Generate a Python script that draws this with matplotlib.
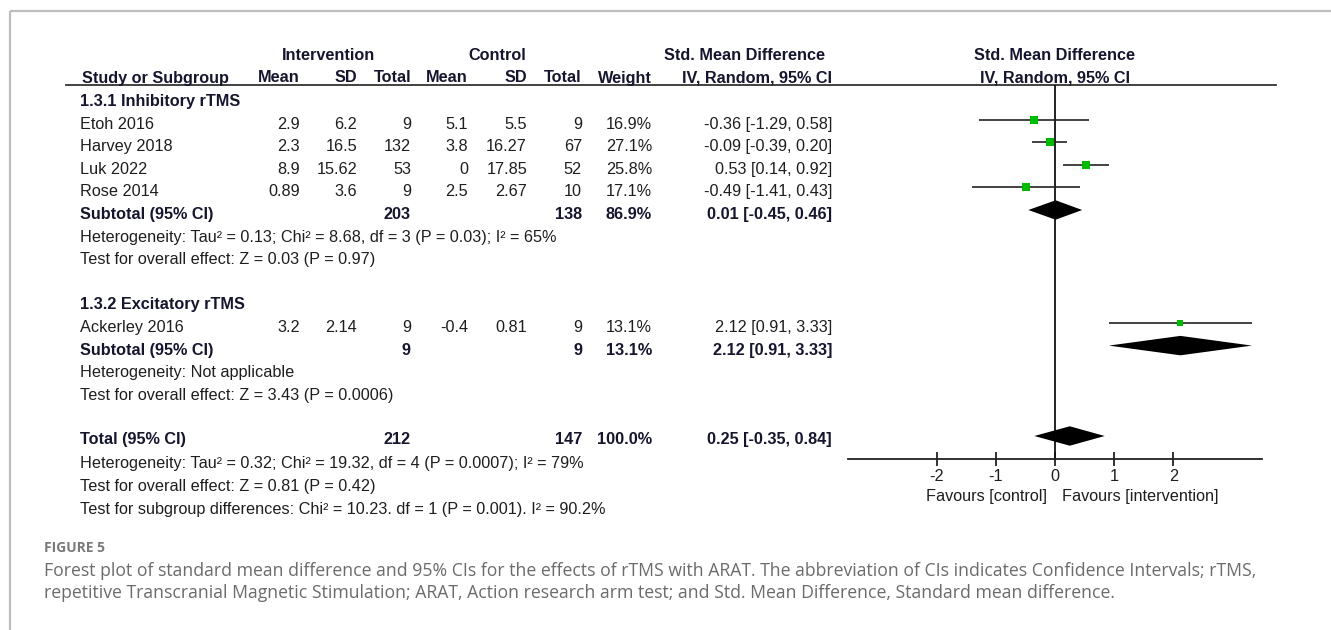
import matplotlib
matplotlib.use("Agg")
import matplotlib.pyplot as plt
import numpy as np

# ---------------- data ----------------
subgroups = ["1.3.1 Inhibitory rTMS", "1.3.2 Excitatory rTMS"]
studies = ["Etoh 2016", "Harvey 2018", "Luk 2022", "Rose 2014", "Ackerley 2016"]
study_group = [0, 0, 0, 0, 1]
int_mean = [2.9, 2.3, 8.9, 0.89, 3.2]
int_sd = [6.2, 16.5, 15.62, 3.6, 2.14]
int_n = [9, 132, 53, 9, 9]
ctl_mean = [5.1, 3.8, 0, 2.5, -0.4]
ctl_sd = [5.5, 16.27, 17.85, 2.67, 0.81]
ctl_n = [9, 67, 52, 10, 9]
weight = [16.9, 27.1, 25.8, 17.1, 13.1]
smd = [-0.36, -0.09, 0.53, -0.49, 2.12]
smd_lo = [-1.29, -0.39, 0.14, -1.41, 0.91]
smd_hi = [0.58, 0.20, 0.92, 0.43, 3.33]

sub_int_n = [203, 9]
sub_ctl_n = [138, 9]
sub_weight = [86.9, 13.1]
sub_smd = [0.01, 2.12]
sub_lo = [-0.45, 0.91]
sub_hi = [0.46, 3.33]
sub_het = ["Heterogeneity: Tau\u00b2 = 0.13; Chi\u00b2 = 8.68, df = 3 (P = 0.03); I\u00b2 = 65%",
           "Heterogeneity: Not applicable"]
sub_test = ["Test for overall effect: Z = 0.03 (P = 0.97)",
            "Test for overall effect: Z = 3.43 (P = 0.0006)"]

tot_int_n, tot_ctl_n, tot_weight = 212, 147, 100.0
tot_smd, tot_lo, tot_hi = 0.25, -0.35, 0.84
tot_notes = ["Heterogeneity: Tau\u00b2 = 0.32; Chi\u00b2 = 19.32, df = 4 (P = 0.0007); I\u00b2 = 79%",
             "Test for overall effect: Z = 0.81 (P = 0.42)",
             "Test for subgroup differences: Chi\u00b2 = 10.23. df = 1 (P = 0.001). I\u00b2 = 90.2%"]

x_ticks = [-2, -1, 0, 1, 2]
x_limits = (-3.5, 3.5)
favours = ["Favours [control]", "Favours [intervention]"]

caption_title = "FIGURE 5"
caption_lines = [
    "Forest plot of standard mean difference and 95% CIs for the effects of rTMS with ARAT. The abbreviation of CIs indicates Confidence Intervals; rTMS,",
    "repetitive Transcranial Magnetic Stimulation; ARAT, Action research arm test; and Std. Mean Difference, Standard mean difference.",
]

# ---------------- layout ----------------
W, H = 1331, 630
FONT = "Liberation Sans"
FS = 11.7
TXT = "#1e1e1e"
HDR = "#15152e"
GREEN = "#00bb00"

ROW0, STEP = 97.0, 22.6          # pixel y of row 0 and row pitch
def row_y(i):
    return ROW0 + STEP * i

fig = plt.figure(figsize=(W / 100, H / 100), dpi=100)
base = fig.add_axes([0, 0, 1, 1])
base.set_xlim(0, W)
base.set_ylim(H, 0)
base.axis("off")

def put(x, y, s, ha="left", bold=False, color=TXT, size=FS, family=FONT):
    base.text(x, y, s, ha=ha, va="baseline", fontsize=size,
              fontweight="bold" if bold else "normal", color=color, family=family)

# card frame
base.plot([10, W], [11, 11], color="#bdbdbd", lw=1.6, solid_capstyle="butt")
base.plot([10, 10], [11, H], color="#bdbdbd", lw=1.6, solid_capstyle="butt")

# column right edges
COL_STUDY = 80
C_IM, C_ISD, C_IN = 300, 357, 411
C_CM, C_CSD, C_CN = 468, 527, 582
C_W, C_CI = 652, 832

# headers
put((282 + 375) / 2, 60.5, "Intervention", ha="center", bold=True, color=HDR)
put(497, 60.5, "Control", ha="center", bold=True, color=HDR)
put(745, 60.5, "Std. Mean Difference", ha="center", bold=True, color=HDR)
put(1055, 60.5, "Std. Mean Difference", ha="center", bold=True, color=HDR)
hb = 82.5
put(COL_STUDY + 2, hb, "Study or Subgroup", bold=True, color=HDR)
put(C_IM, hb, "Mean", ha="right", bold=True, color=HDR)
put(C_ISD, hb, "SD", ha="right", bold=True, color=HDR)
put(C_IN, hb, "Total", ha="right", bold=True, color=HDR)
put(C_CM, hb, "Mean", ha="right", bold=True, color=HDR)
put(C_CSD, hb, "SD", ha="right", bold=True, color=HDR)
put(C_CN, hb, "Total", ha="right", bold=True, color=HDR)
put(C_W, hb, "Weight", ha="right", bold=True, color=HDR)
put(C_CI, hb, "IV, Random, 95% CI", ha="right", bold=True, color=HDR)
put(1055, hb, "IV, Random, 95% CI", ha="center", bold=True, color=HDR)
base.plot([66, 1276], [85, 85], color="#333333", lw=1.3)

def ci_text(e, lo, hi):
    return f"{e:.2f} [{lo:.2f}, {hi:.2f}]"

# build row layout
study_rows, sub_rows, tot_row = [], [], None
r = 0
for g, name in enumerate(subgroups):
    put(COL_STUDY, row_y(r) + 9, name, bold=True, color=HDR)
    r += 1
    for k in range(len(studies)):
        if study_group[k] != g:
            continue
        y = row_y(r) + 9
        put(COL_STUDY, y, studies[k])
        put(C_IM, y, f"{int_mean[k]:g}", ha="right")
        put(C_ISD, y, f"{int_sd[k]:g}", ha="right")
        put(C_IN, y, f"{int_n[k]}", ha="right")
        put(C_CM, y, f"{ctl_mean[k]:g}", ha="right")
        put(C_CSD, y, f"{ctl_sd[k]:g}", ha="right")
        put(C_CN, y, f"{ctl_n[k]}", ha="right")
        put(C_W, y, f"{weight[k]:.1f}%", ha="right")
        put(C_CI, y, ci_text(smd[k], smd_lo[k], smd_hi[k]), ha="right")
        study_rows.append(r)
        r += 1
    y = row_y(r) + 9
    put(COL_STUDY, y, "Subtotal (95% CI)", bold=True, color=HDR)
    put(C_IN, y, f"{sub_int_n[g]}", ha="right", bold=True, color=HDR)
    put(C_CN, y, f"{sub_ctl_n[g]}", ha="right", bold=True, color=HDR)
    put(C_W, y, f"{sub_weight[g]:.1f}%", ha="right", bold=True, color=HDR)
    put(C_CI, y, ci_text(sub_smd[g], sub_lo[g], sub_hi[g]), ha="right", bold=True, color=HDR)
    sub_rows.append(r)
    r += 1
    put(COL_STUDY, row_y(r) + 9, sub_het[g]); r += 1
    put(COL_STUDY, row_y(r) + 9, sub_test[g]); r += 1
    r += 1

tot_row = r
y = row_y(r) + 8
put(COL_STUDY, y, "Total (95% CI)", bold=True, color=HDR)
put(C_IN, y, f"{tot_int_n}", ha="right", bold=True, color=HDR)
put(C_CN, y, f"{tot_ctl_n}", ha="right", bold=True, color=HDR)
put(C_W, y, f"{tot_weight:.1f}%", ha="right", bold=True, color=HDR)
put(C_CI, y, ci_text(tot_smd, tot_lo, tot_hi), ha="right", bold=True, color=HDR)
for j, note in enumerate(tot_notes):
    put(COL_STUDY, row_y(r + 1 + j) + 9 + 0.6 * j, note)

# ---------------- forest panel ----------------
PX_L, PX_R, PX_T, PX_B = 848, 1262, 85, 459
fx = fig.add_axes([PX_L / W, 1 - PX_B / H, (PX_R - PX_L) / W, (PX_B - PX_T) / H])
fx.set_xlim(*x_limits)
y_top = (PX_T - ROW0) / STEP
y_bot = (PX_B - ROW0) / STEP
fx.set_ylim(y_bot, y_top)
fx.patch.set_alpha(0)
for s in ("top", "left", "right"):
    fx.spines[s].set_visible(False)
fx.spines["bottom"].set_linewidth(1.3)
fx.spines["bottom"].set_color("#222222")
fx.set_yticks([])
fx.set_xticks(x_ticks)
fx.set_xticklabels([f"{t:g}" for t in x_ticks], family=FONT, fontsize=FS, color=TXT)
fx.tick_params(axis="x", direction="inout", length=10, width=1.3, color="#222222", pad=2.5)

# line of no effect
fx.plot([0, 0], [y_top, y_bot], color="#111111", lw=1.3)

# study CIs and weight squares
sw = np.array(weight)
side_px = 1.72 * np.sqrt(sw)
fx.hlines(study_rows, smd_lo, smd_hi, color="#222222", lw=1.2)
for k, rr in enumerate(study_rows):
    fx.plot(smd[k], rr, marker="s", ms=side_px[k] * 0.72, color=GREEN,
            mec=GREEN, mew=0, zorder=3)

# pooled diamonds
def diamond(e, lo, hi, rr, h=0.43):
    fx.fill([lo, e, hi, e], [rr, rr - h, rr, rr + h], color="black", lw=0, zorder=3)

for g in range(len(subgroups)):
    diamond(sub_smd[g], sub_lo[g], sub_hi[g], sub_rows[g])
diamond(tot_smd, tot_lo, tot_hi, tot_row)

put(1047, 501, favours[0], ha="right")
put(1062, 501, favours[1], ha="left")

# ---------------- caption ----------------
put(44, 552, caption_title, bold=True, color="#7a7a7a", size=10, family="Open Sans")
put(44, 576, caption_lines[0], color="#6b6b6b", size=12.7, family="Open Sans")
put(44, 597.5, caption_lines[1], color="#6b6b6b", size=12.7, family="Open Sans")

fig.savefig("out.png", dpi=100)
